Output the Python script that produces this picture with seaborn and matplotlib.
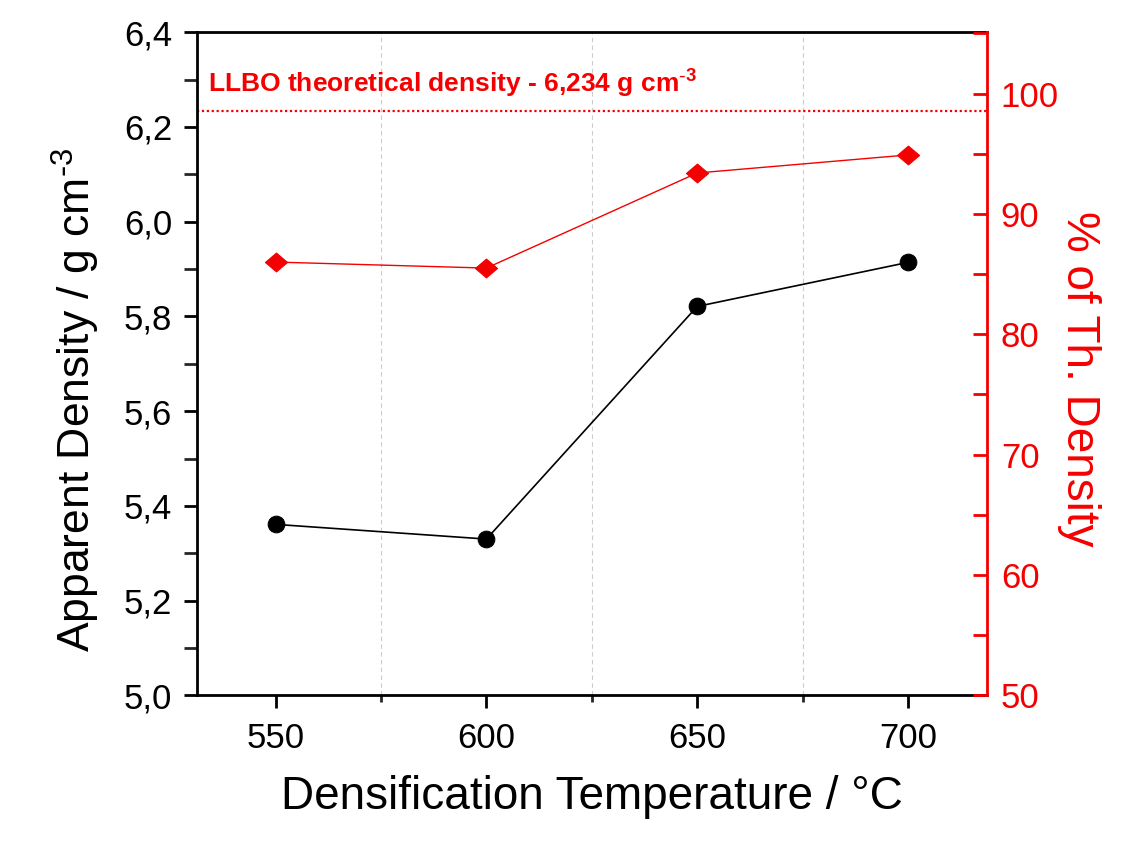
import seaborn as sns
import matplotlib.pyplot as plt
from matplotlib.ticker import MultipleLocator, FuncFormatter

# data
temperature = [550, 600, 650, 700]
apparent_density = [5.361, 5.330, 5.821, 5.914]
percent_theoretical = [86.0, 85.5, 93.4, 94.9]
theoretical_density = 6.234

sns.set_style("ticks")
plt.rcParams['font.family'] = ['Liberation Sans', 'DejaVu Sans']
plt.rcParams['text.color'] = 'black'
plt.rcParams['axes.labelcolor'] = 'black'

red = '#f50000'
# slightly flattened diamond, like the original
flat_diamond = [(-1, 0), (0, 0.85), (1, 0), (0, -0.85), (-1, 0)]

fig, ax = plt.subplots(figsize=(11.43, 8.46), dpi=100)
fig.subplots_adjust(left=0.172, right=0.8635, top=0.962, bottom=0.178)

# left axis: apparent density
sns.lineplot(x=temperature, y=apparent_density, marker='o', color='black',
             markersize=12, markeredgecolor='black', linewidth=1.2, ax=ax)
ax.axhline(theoretical_density, color=red, linestyle=(0, (1, 1.2)), linewidth=1.6)
ax.text(534, 6.275, 'LLBO theoretical density - 6,234 g cm$^{\\mathregular{\\text{-}3}}$',
        color=red, fontsize=19, fontweight='bold')

ax.set_xlim(531.25, 718.75)
ax.set_ylim(5.0, 6.4)
ax.xaxis.set_major_locator(MultipleLocator(50))
ax.xaxis.set_minor_locator(MultipleLocator(25))
ax.yaxis.set_major_locator(MultipleLocator(0.2))
ax.yaxis.set_minor_locator(MultipleLocator(0.1))
ax.yaxis.set_major_formatter(FuncFormatter(lambda v, p: f'{v:.1f}'.replace('.', ',')))
ax.grid(which='minor', axis='x', color='#cccccc', linestyle=(0, (4, 3)), linewidth=0.8)
ax.tick_params(which='major', direction='out', length=9.5, width=2, labelsize=25,
               colors='black')
ax.tick_params(axis='y', which='major', pad=8)
ax.tick_params(axis='x', which='major', pad=10)
ax.tick_params(which='minor', direction='out', length=5, width=2)
ax.tick_params(axis='y', which='minor', length=9.5)
ax.set_xlabel('Densification Temperature / °C', fontsize=33, labelpad=14)
ax.set_ylabel('Apparent Density / g cm$^{\\mathregular{\\text{-}3}}$', fontsize=32, labelpad=16)
ax.yaxis.label.set_y(0.446)
for side in ['left', 'bottom', 'top']:
    ax.spines[side].set_linewidth(2)
    ax.spines[side].set_color('black')

# right axis: percent of theoretical density
ax2 = ax.twinx()
sns.lineplot(x=temperature, y=percent_theoretical, marker=flat_diamond, color=red,
             markersize=16, markeredgecolor=red, linewidth=1.0, ax=ax2)
ax2.set_ylim(50, 105.1)
ax2.yaxis.set_major_locator(MultipleLocator(10))
ax2.yaxis.set_minor_locator(MultipleLocator(5))
ax2.tick_params(which='major', direction='in', length=10, width=2, labelsize=25,
                colors=red, pad=10)
ax2.tick_params(which='minor', direction='in', length=10, width=2, colors=red)
ax2.set_ylabel('% of Th. Density', fontsize=33, color=red, rotation=270, labelpad=30)
ax2.yaxis.label.set_y(0.477)
ax2.spines['right'].set_color(red)
ax2.spines['right'].set_linewidth(2)
for side in ['left', 'bottom', 'top']:
    ax2.spines[side].set_visible(False)

fig.savefig('out.png', dpi=100)
